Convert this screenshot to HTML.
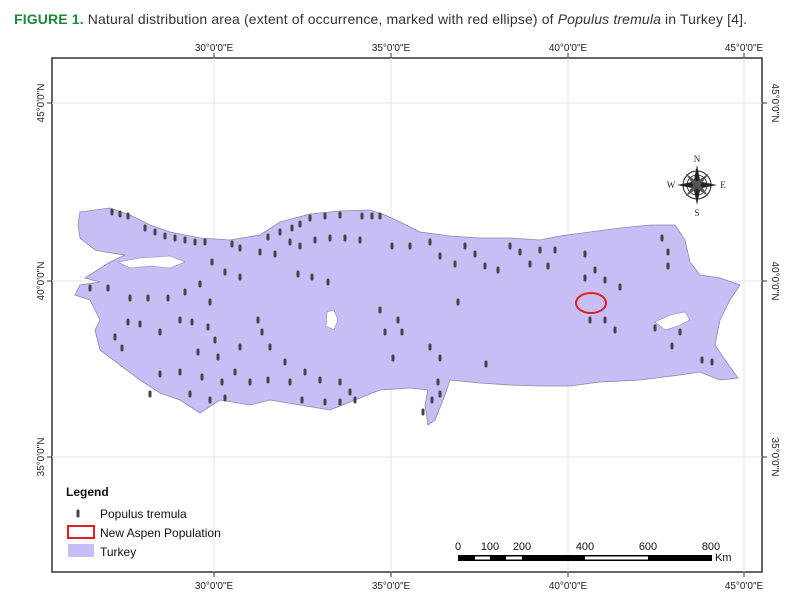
<!DOCTYPE html>
<html><head><style>
body{margin:0;background:#fff;width:800px;height:608px;overflow:hidden;font-family:"Liberation Sans",sans-serif}
</style></head><body>
<svg width="800" height="608" xmlns="http://www.w3.org/2000/svg" font-family="Liberation Sans, sans-serif">
<text x="14" y="24" font-size="14" fill="#333" textLength="733" lengthAdjust="spacing"><tspan fill="#1a8a3a" font-weight="bold">FIGURE 1.</tspan> Natural distribution area (extent of occurrence, marked with red ellipse) of <tspan font-style="italic">Populus tremula</tspan> in Turkey [4].</text>
<rect x="52" y="58" width="710" height="514" fill="#fff" stroke="#333" stroke-width="1.5"/>
<g stroke="#e6e6e6" stroke-width="1">
<line x1="214" y1="58" x2="214" y2="572"/><line x1="391" y1="58" x2="391" y2="572"/><line x1="568" y1="58" x2="568" y2="572"/><line x1="744" y1="58" x2="744" y2="572"/>
<line x1="52" y1="103" x2="762" y2="103"/><line x1="52" y1="281" x2="762" y2="281"/><line x1="52" y1="457" x2="762" y2="457"/>
</g>
<g stroke="#333" stroke-width="1">
<line x1="214" y1="53" x2="214" y2="58"/><line x1="391" y1="53" x2="391" y2="58"/><line x1="568" y1="53" x2="568" y2="58"/><line x1="744" y1="53" x2="744" y2="58"/>
<line x1="214" y1="572" x2="214" y2="577"/><line x1="391" y1="572" x2="391" y2="577"/><line x1="568" y1="572" x2="568" y2="577"/><line x1="744" y1="572" x2="744" y2="577"/>
<line x1="47" y1="103" x2="52" y2="103"/><line x1="47" y1="281" x2="52" y2="281"/><line x1="47" y1="457" x2="52" y2="457"/>
<line x1="762" y1="103" x2="767" y2="103"/><line x1="762" y1="281" x2="767" y2="281"/><line x1="762" y1="457" x2="767" y2="457"/>
</g>
<g font-size="10" fill="#222" text-anchor="middle">
<text x="214" y="51">30°0'0"E</text><text x="391" y="51">35°0'0"E</text><text x="568" y="51">40°0'0"E</text><text x="744" y="51">45°0'0"E</text>
<text x="214" y="589">30°0'0"E</text><text x="391" y="589">35°0'0"E</text><text x="568" y="589">40°0'0"E</text><text x="744" y="589">45°0'0"E</text>
<text transform="translate(44,103) rotate(-90)">45°0'0"N</text><text transform="translate(44,281) rotate(-90)">40°0'0"N</text><text transform="translate(44,457) rotate(-90)">35°0'0"N</text>
<text transform="translate(772,103) rotate(90)">45°0'0"N</text><text transform="translate(772,281) rotate(90)">40°0'0"N</text><text transform="translate(772,457) rotate(90)">35°0'0"N</text>
</g>
<path fill="#c9bdf6" stroke="#8f86b0" stroke-width="0.8" d="M80,212 L110,208 L130,215 L150,225 L170,232 L200,238 L230,240 L260,235 L280,222 L310,214 L340,211 L370,210 L385,215 L400,222 L420,232 L450,236 L480,238 L510,238 L540,240 L560,236 L590,232 L620,228 L650,225 L675,225 L685,240 L690,262 L700,275 L720,278 L740,285 L730,300 L720,320 L715,345 L725,360 L738,378 L720,380 L700,372 L680,375 L640,380 L600,382 L570,386 L540,386 L510,385 L480,383 L450,380 L445,395 L435,420 L428,425 L425,405 L428,390 L410,388 L380,390 L360,398 L330,410 L300,405 L270,400 L250,405 L220,400 L200,413 L180,400 L160,393 L140,380 L120,365 L100,350 L95,330 L100,320 L90,300 L75,295 L80,285 L100,282 L85,278 L110,262 L125,255 L105,252 L95,250 L80,238 L78,225 Z"/>
<path fill="#fff" stroke="#8f86b0" stroke-width="0.6" d="M118,262 L140,258 L170,256 L185,262 L170,268 L150,266 L130,268 Z"/>
<path fill="#fff" stroke="#8f86b0" stroke-width="0.6" d="M327,312 L334,310 L338,320 L334,330 L326,326 Z"/>
<path fill="#fff" stroke="#8f86b0" stroke-width="0.6" d="M655,322 L670,315 L685,312 L690,320 L678,326 L665,330 Z"/>
<ellipse cx="591" cy="303" rx="15" ry="10" fill="none" stroke="#e02020" stroke-width="2"/>
<g stroke="#444" stroke-width="3" stroke-linecap="round">
<path d="M112,210v4M120,212v4M128,214v4M145,226v4M155,230v4M165,234v4M175,236v4M185,238v4M195,240v4M205,240v4M232,242v4M240,246v4M268,235v4M280,230v4M292,226v4M300,222v4M310,216v4M325,214v4M340,213v4M362,214v4M372,214v4M380,214v4M290,240v4M300,244v4M315,238v4M330,236v4M345,236v4M360,238v4M392,244v4M410,244v4M430,240v4M440,254v4M455,262v4M465,244v4M475,252v4M485,264v4M498,268v4M510,244v4M520,250v4M530,262v4M540,248v4M548,264v4M555,248v4M585,252v4M595,268v4M605,278v4M585,276v4M662,236v4M668,250v4M668,264v4M90,286v4M108,286v4M130,296v4M148,296v4M168,296v4M185,290v4M200,282v4M212,260v4M225,270v4M240,275v4M260,250v4M275,252v4M298,272v4M312,275v4M328,280v4M210,300v4M192,320v4M208,325v4M128,320v4M140,322v4M160,330v4M180,318v4M215,338v4M258,318v4M262,330v4M115,335v4M122,346v4M198,350v4M218,355v4M240,345v4M270,345v4M285,360v4M380,308v4M398,318v4M402,330v4M385,330v4M290,380v4M305,370v4M320,378v4M340,380v4M350,390v4M268,378v4M250,380v4M235,370v4M222,380v4M202,375v4M180,370v4M160,372v4M150,392v4M190,392v4M210,398v4M225,396v4M302,398v4M325,400v4M340,400v4M355,398v4M393,356v4M430,345v4M440,356v4M438,380v4M440,392v4M432,398v4M423,410v4M486,362v4M458,300v4M590,318v4M605,318v4M615,328v4M620,285v4M655,326v4M680,330v4M702,358v4M712,360v4M672,344v4"/>
</g>
<g transform="translate(697,185)">
<circle r="14" fill="none" stroke="#222" stroke-width="1"/>
<circle r="10" fill="none" stroke="#222" stroke-width="0.8"/>
<path d="M0,-20 L4,0 L0,20 L-4,0 Z M-20,0 L0,-4 L20,0 L0,4 Z" fill="#222"/>
<path d="M-12,-12 L2,-2 L12,12 L-2,2 Z M12,-12 L2,2 L-12,12 L-2,-2 Z" fill="#555"/>
<g font-size="9" font-family="Liberation Serif,serif" text-anchor="middle" fill="#222">
<text y="-23">N</text><text y="31">S</text><text x="-26" y="3">W</text><text x="26" y="3">E</text></g>
</g>
<text x="66" y="496" font-size="12" font-weight="bold" fill="#111">Legend</text>
<path d="M78,511v5" stroke="#444" stroke-width="3" stroke-linecap="round"/>
<text x="100" y="518" font-size="12" fill="#111">Populus tremula</text>
<rect x="68" y="526" width="26" height="12" fill="#fff" stroke="#e02020" stroke-width="2"/>
<text x="100" y="537" font-size="12" fill="#111">New Aspen Population</text>
<rect x="68" y="544" width="26" height="13" fill="#c9bdf6"/>
<text x="100" y="556" font-size="12" fill="#111">Turkey</text>
<g font-size="11" fill="#111" text-anchor="middle">
<text x="458" y="550">0</text><text x="490" y="550">100</text><text x="522" y="550">200</text><text x="585" y="550">400</text><text x="648" y="550">600</text><text x="711" y="550">800</text>
</g>
<text x="715" y="561" font-size="11" fill="#111">Km</text>
<rect x="458" y="555" width="254" height="6" fill="#000"/>
<rect x="475" y="556.5" width="15" height="3" fill="#fff"/>
<rect x="506" y="556.5" width="16" height="3" fill="#fff"/>
<rect x="585" y="556.5" width="63" height="3" fill="#fff"/>
</svg>
</body></html>
